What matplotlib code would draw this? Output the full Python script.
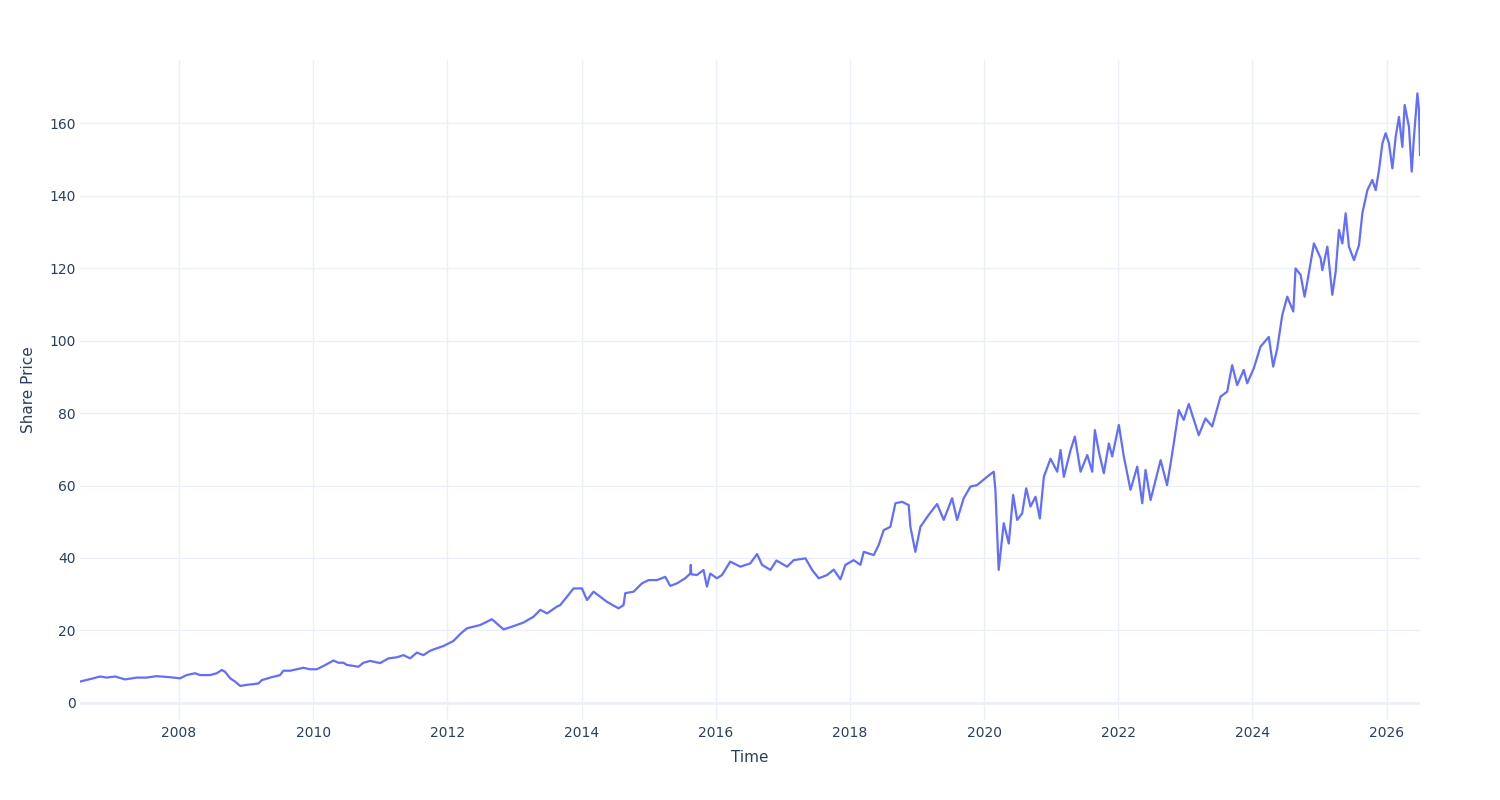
import datetime as dt
import matplotlib
matplotlib.use("Agg")
import matplotlib.pyplot as plt
import matplotlib.dates as mdates

# Decimal years and share prices
years = [
    2006.524, 2006.722, 2006.822, 2006.922, 2007.046, 2007.195, 2007.369, 2007.518,
    2007.667, 2007.866, 2008.015, 2008.115, 2008.239, 2008.313, 2008.462, 2008.562,
    2008.637, 2008.686, 2008.761, 2008.835, 2008.910, 2009.010, 2009.108, 2009.183,
    2009.233, 2009.357, 2009.506, 2009.555, 2009.655, 2009.755, 2009.854, 2009.953,
    2010.053, 2010.152, 2010.301, 2010.375, 2010.450, 2010.501, 2010.674, 2010.748,
    2010.848, 2010.997, 2011.121, 2011.246, 2011.345, 2011.445, 2011.545, 2011.643,
    2011.743, 2011.843, 2011.941, 2012.090, 2012.190, 2012.290, 2012.488, 2012.663,
    2012.836, 2012.985, 2013.134, 2013.283, 2013.383, 2013.483, 2013.632, 2013.681,
    2013.880, 2014.005, 2014.080, 2014.178, 2014.278, 2014.378, 2014.551, 2014.625,
    2014.651, 2014.775, 2014.900, 2014.998, 2015.123, 2015.247, 2015.322, 2015.422,
    2015.545, 2015.620, 2015.628, 2015.636, 2015.720, 2015.818, 2015.869, 2015.918,
    2016.018, 2016.093, 2016.216, 2016.365, 2016.514, 2016.615, 2016.689, 2016.813,
    2016.903, 2017.062, 2017.160, 2017.335, 2017.435, 2017.533, 2017.659, 2017.757,
    2017.857, 2017.931,
    2018.055, 2018.155, 2018.205, 2018.354,
    2018.428, 2018.503, 2018.602, 2018.677, 2018.777, 2018.875, 2018.901, 2018.975,
    2019.050, 2019.174, 2019.299, 2019.398, 2019.523, 2019.597, 2019.696, 2019.796,
    2019.895, 2020.044, 2020.143, 2020.168, 2020.217, 2020.292, 2020.367, 2020.432,
    2020.492, 2020.566, 2020.626, 2020.690, 2020.765, 2020.829, 2020.889, 2020.988,
    2021.088, 2021.137, 2021.187, 2021.287, 2021.351, 2021.436, 2021.536, 2021.610,
    2021.649, 2021.709, 2021.783, 2021.858, 2021.908, 2022.007, 2022.081, 2022.181,
    2022.281, 2022.356, 2022.405, 2022.480, 2022.580, 2022.630, 2022.726, 2022.776,
    2022.826, 2022.901, 2022.975, 2023.050, 2023.199, 2023.299, 2023.399, 2023.523,
    2023.623, 2023.697, 2023.772, 2023.870, 2023.921, 2024.019, 2024.119, 2024.243,
    2024.308, 2024.368, 2024.443, 2024.517, 2024.607, 2024.641, 2024.716, 2024.775,
    2024.816, 2024.914, 2025.014, 2025.039, 2025.114, 2025.188, 2025.238, 2025.287,
    2025.338, 2025.387, 2025.436, 2025.511, 2025.586, 2025.636, 2025.711, 2025.785,
    2025.835, 2025.884, 2025.935, 2025.984, 2026.033, 2026.084, 2026.133, 2026.182,
    2026.233, 2026.267, 2026.331, 2026.372, 2026.406, 2026.457, 2026.481, 2026.496,
]
prices = [
    5.9, 6.8, 7.3, 7.0, 7.3, 6.5, 7.0, 7.0,
    7.4, 7.1, 6.8, 7.7, 8.2, 7.7, 7.7, 8.2,
    9.1, 8.6, 6.8, 5.9, 4.7, 5.0, 5.2, 5.4,
    6.3, 7.0, 7.7, 8.9, 8.9, 9.3, 9.7, 9.3,
    9.3, 10.2, 11.7, 11.1, 11.1, 10.5, 10.0, 11.1,
    11.6, 11.0, 12.3, 12.6, 13.2, 12.3, 13.9, 13.2,
    14.4, 15.1, 15.7, 17.1, 19.0, 20.6, 21.5, 23.1,
    20.3, 21.2, 22.2, 23.8, 25.7, 24.7, 26.6, 27.0,
    31.6, 31.6, 28.4, 30.7, 29.3, 27.9, 26.1, 27.0,
    30.3, 30.7, 33.0, 33.9, 33.9, 34.8, 32.3, 33.0,
    34.4, 35.7, 38.1, 35.5, 35.3, 36.7, 32.1, 35.7,
    34.4, 35.3, 39.0, 37.6, 38.5, 41.1, 38.1, 36.7,
    39.3, 37.6, 39.4, 39.9, 36.7, 34.4, 35.3, 36.8,
    34.1, 38.1,
    39.4, 38.1, 41.7, 40.8,
    43.6, 47.7, 48.6, 55.1, 55.5, 54.6, 48.6, 41.7,
    48.6, 51.9, 54.9, 50.5, 56.5, 50.5, 56.5, 59.7,
    60.1, 62.4, 63.8, 58.8, 36.7, 49.6, 44.0, 57.4,
    50.5, 52.3, 59.2, 54.2, 56.9, 50.9, 62.4, 67.4,
    63.8, 69.8, 62.4, 69.8, 73.5, 63.8, 68.4, 63.8,
    75.3, 69.3, 63.4, 71.6, 68.0, 76.7, 68.0, 58.8,
    65.2, 55.1, 64.3, 56.0, 63.4, 67.0, 60.1, 65.7,
    71.6, 80.8, 78.1, 82.5, 73.9, 78.5, 76.3, 84.5,
    85.9, 93.2, 87.7, 91.9, 88.2, 92.3, 98.3, 101.0,
    92.8, 97.8, 107.0, 112.1, 108.0, 119.9, 118.1, 112.1,
    116.2, 126.8, 122.7, 119.4, 125.9, 112.6, 119.0, 130.5,
    126.8, 135.1, 125.9, 122.2, 126.3, 135.1, 141.5, 144.3,
    141.5, 147.0, 154.4, 157.2, 154.4, 147.5, 156.2, 161.7,
    153.4, 165.0, 159.0, 146.6, 156.2, 168.2, 163.6, 151.2,
]
y_ticks = [0, 20, 40, 60, 80, 100, 120, 140, 160]
x_label = "Time"
y_label = "Share Price"


def to_date(y):
    year = int(y)
    start = dt.datetime(year, 1, 1)
    end = dt.datetime(year + 1, 1, 1)
    return start + (end - start) * (y - year)


dates = [to_date(y) for y in years]

plt.rcParams["font.family"] = ["DejaVu Sans"]
fig = plt.figure(figsize=(15, 8), dpi=100)
ax = fig.add_axes([80 / 1500, 80 / 800, 1340 / 1500, 660 / 800])

grid_c = "#ebf0f8"
text_c = "#2a3f5f"

ax.plot(dates, prices, color="#636efa", lw=1.6, zorder=3)

ax.set_xlim(dates[0], dates[-1])
ax.set_ylim(-4.7, 177.4)
ax.set_yticks(y_ticks)
ax.xaxis.set_major_locator(mdates.YearLocator(2))
ax.xaxis.set_major_formatter(mdates.DateFormatter("%Y"))

ax.grid(True, color=grid_c, lw=1, zorder=0)
ax.axhline(0, color=grid_c, lw=2, zorder=1)
for s in ax.spines.values():
    s.set_visible(False)
ax.tick_params(axis="both", length=0, labelsize=10, labelcolor=text_c)
ax.tick_params(axis="x", pad=4)
ax.tick_params(axis="y", pad=3)
ax.set_axisbelow(True)

ax.set_xlabel(x_label, fontsize=11, color=text_c, labelpad=7.5)
ax.set_ylabel(y_label, fontsize=11, color=text_c, labelpad=9.5)

fig.savefig("out.png", dpi=100, facecolor="white")
